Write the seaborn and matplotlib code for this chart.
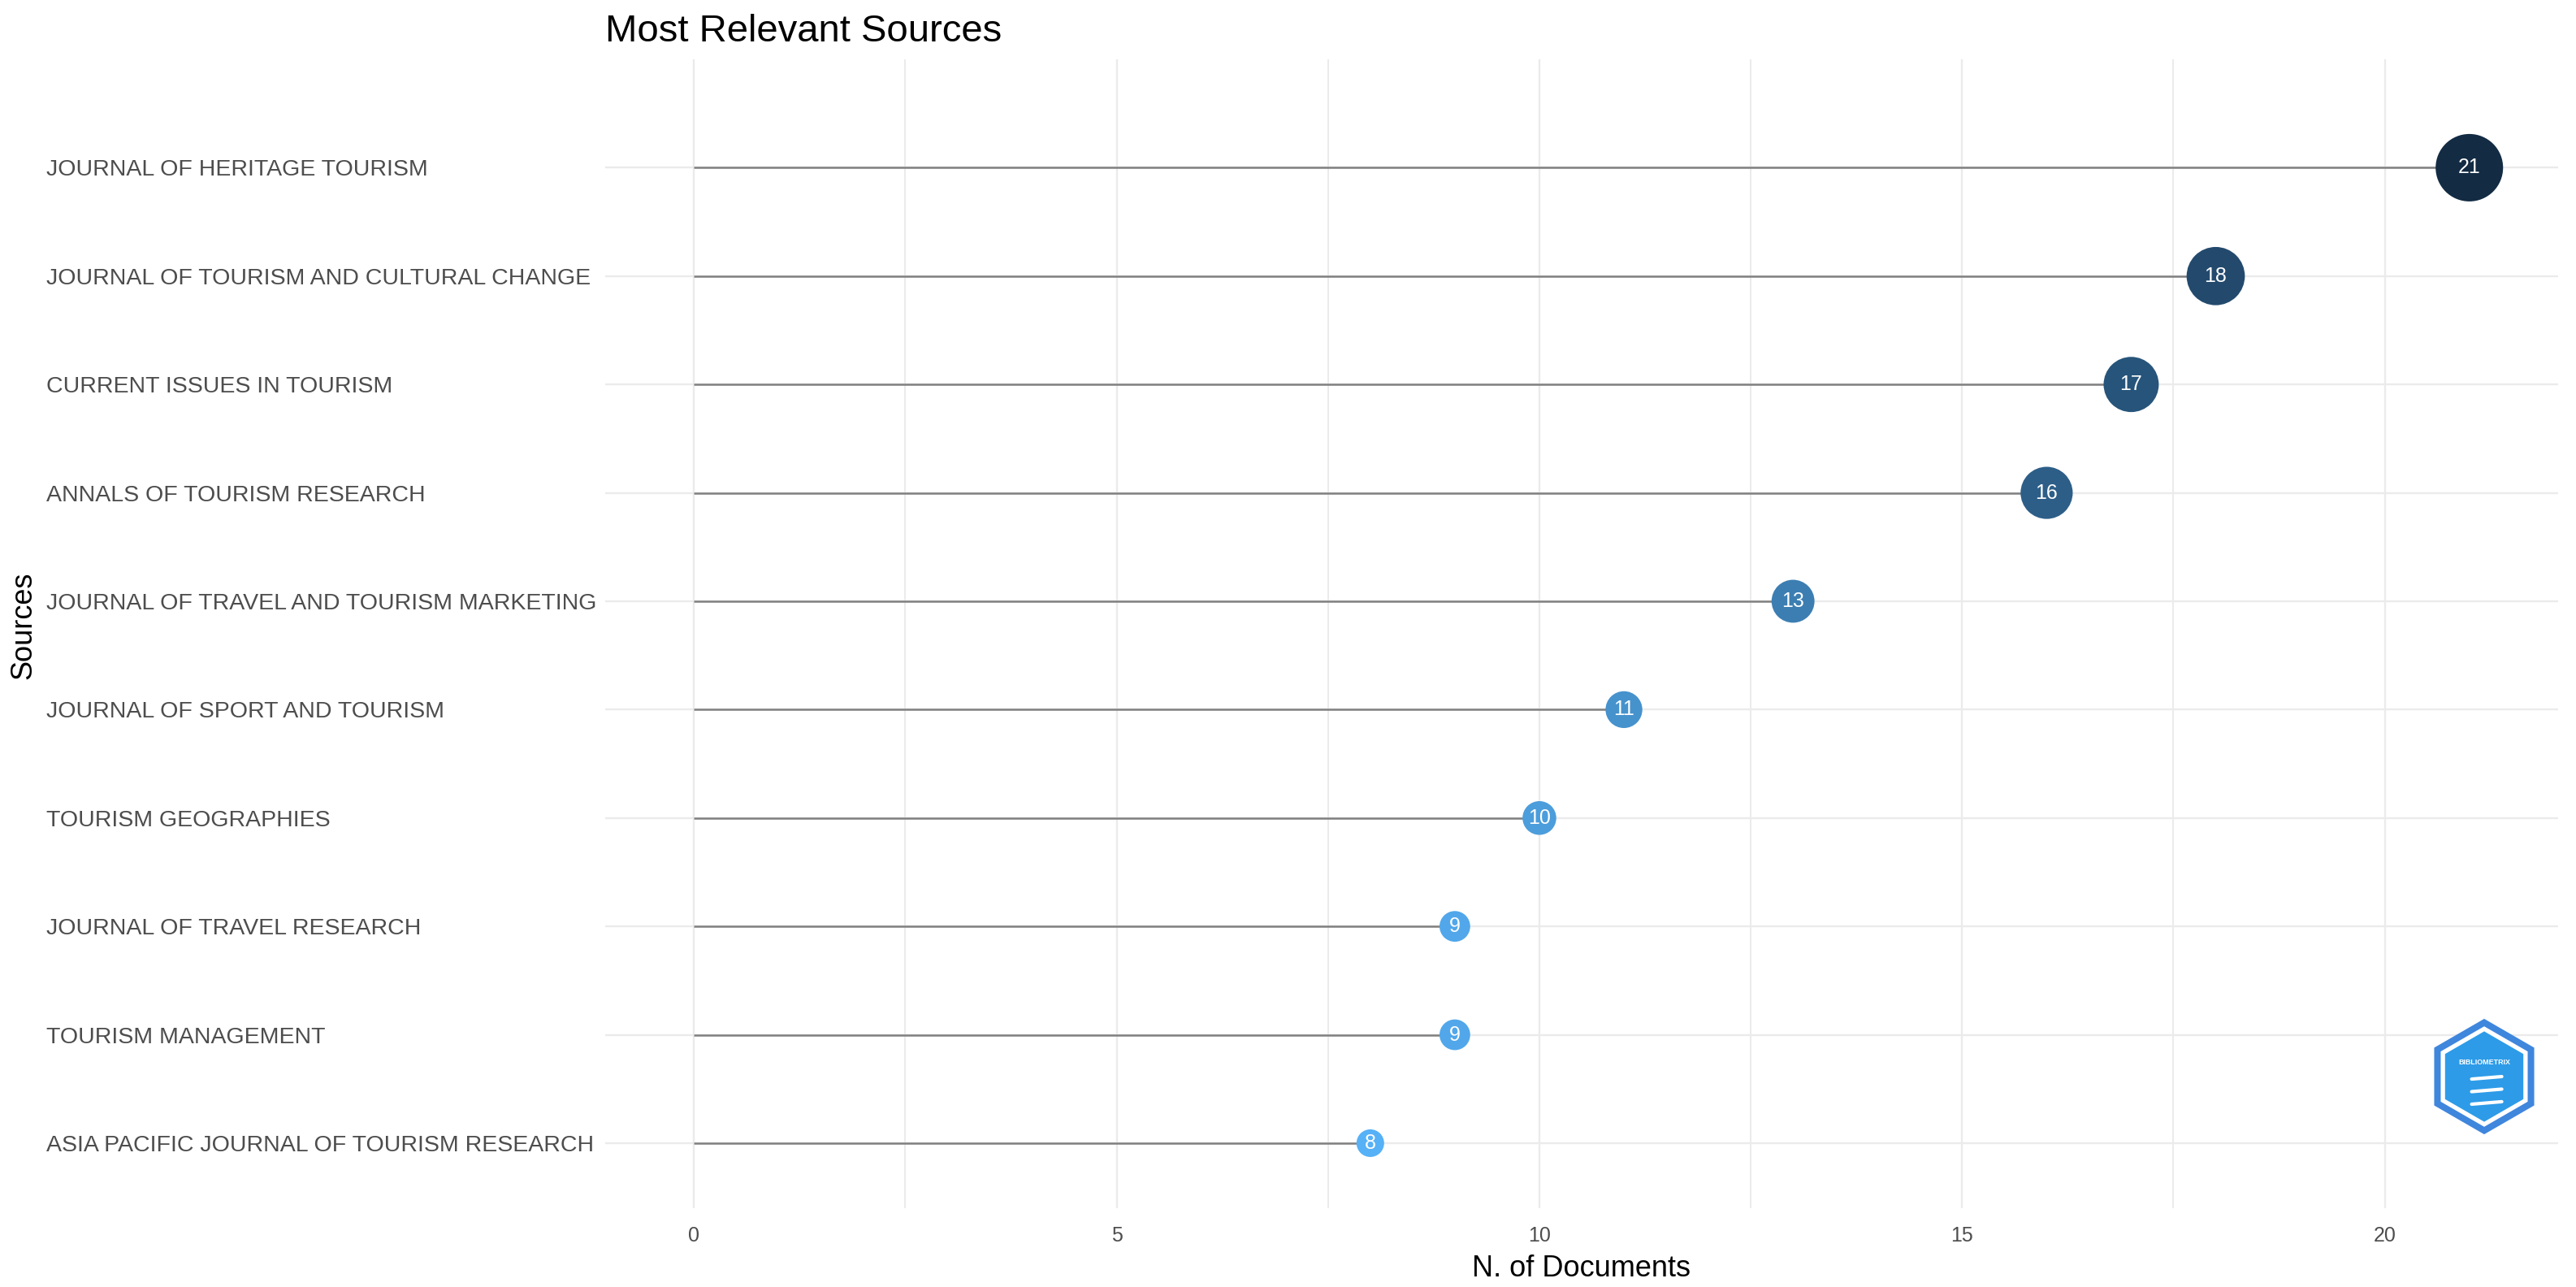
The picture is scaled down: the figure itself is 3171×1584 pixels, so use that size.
import numpy as np
import pandas as pd
import seaborn as sns
import matplotlib
matplotlib.use('Agg')
import matplotlib.pyplot as plt
from matplotlib.colors import LinearSegmentedColormap
from matplotlib.patches import RegularPolygon

# data
sources = [
    "JOURNAL OF HERITAGE TOURISM",
    "JOURNAL OF TOURISM AND CULTURAL CHANGE",
    "CURRENT ISSUES IN TOURISM",
    "ANNALS OF TOURISM RESEARCH",
    "JOURNAL OF TRAVEL AND TOURISM MARKETING",
    "JOURNAL OF SPORT AND TOURISM",
    "TOURISM GEOGRAPHIES",
    "JOURNAL OF TRAVEL RESEARCH",
    "TOURISM MANAGEMENT",
    "ASIA PACIFIC JOURNAL OF TOURISM RESEARCH",
]
docs = [21, 18, 17, 16, 13, 11, 10, 9, 9, 8]

df = pd.DataFrame({"Sources": sources, "Docs": docs})

sns.set_theme(style="white")
plt.rcParams['font.family'] = ['Liberation Sans', 'DejaVu Sans']

W, H = 3171, 1584
fig = plt.figure(figsize=(W / 200, H / 200), dpi=200)
ax = fig.add_axes([745 / W, 1 - 1487 / H, (3149 - 745) / W, (1487 - 73) / H])

# ggplot-like gradient, dark for large values
cmap = LinearSegmentedColormap.from_list("bx", ["#56B1F7", "#132B43"])
lo, hi = min(docs), max(docs)
# marker diameter grows linearly with the count (pixels -> points^2)
diam_px = {v: 34 + (v - lo) / (hi - lo) * 49 for v in set(docs)}
sizes = {v: (d * 72 / 200) ** 2 for v, d in diam_px.items()}

ax.hlines(df["Sources"], 0, df["Docs"], color="#808080", lw=0.9, zorder=2)
sns.scatterplot(data=df, x="Docs", y="Sources", hue="Docs", palette=cmap,
                hue_norm=(lo, hi), size="Docs", sizes=sizes, legend=False,
                linewidth=0, alpha=1, ax=ax, zorder=3)
for s, v in zip(df["Sources"], df["Docs"]):
    ax.text(v, s, str(v), color="white", ha="center", va="center",
            fontsize=9, zorder=4)

ax.set_xlim(-1.05, 22.05)
ax.set_ylim(len(sources) - 1 + 0.6, -1.0)
ax.set_xticks([0, 5, 10, 15, 20])
ax.set_xticks([2.5, 7.5, 12.5, 17.5], minor=True)
ax.grid(which="major", color="#EBEBEB", lw=0.85)
ax.grid(which="minor", axis="x", color="#EBEBEB", lw=0.7)
ax.set_axisbelow(True)
for sp in ax.spines.values():
    sp.set_visible(False)

ax.tick_params(axis="x", length=0, labelsize=9, labelcolor="#4D4D4D", pad=8)
ax.tick_params(axis="y", length=0, labelsize=10.25, labelcolor="#4D4D4D", pad=247.7)
for lab in ax.get_yticklabels():
    lab.set_horizontalalignment("left")

ax.set_xlabel("N. of Documents", fontsize=13, color="black", labelpad=4)
ax.set_ylabel("Sources", fontsize=13, color="black")
ax.yaxis.set_label_coords(46 / W, 1 - 770 / H, transform=fig.transFigure)
ax.set_title("Most Relevant Sources", loc="left", fontsize=17, color="black", pad=8)

# rough stand-in for the bibliometrix hex logo
lax = fig.add_axes([2990 / W, 1 - 1400 / H, 136 / W, 150 / H])
lax.set_xlim(-1.1, 1.1)
lax.set_ylim(-1.2, 1.2)
lax.set_aspect("equal")
lax.axis("off")
lax.add_patch(RegularPolygon((0, 0), 6, radius=1.15, facecolor="#3F86DD", edgecolor="none"))
lax.add_patch(RegularPolygon((0, 0), 6, radius=1.0, facecolor="white", edgecolor="none"))
lax.add_patch(RegularPolygon((0, 0), 6, radius=0.9, facecolor="#2D9BE8", edgecolor="none"))
lax.text(0, 0.28, "BIBLIOMETRIX", color="white", ha="center", va="center",
         fontsize=3.2, fontweight="bold")
for yy in [-0.05, -0.3, -0.55]:
    lax.plot([-0.25, 0.35], [yy, yy + 0.05], color="white", lw=1.5)

fig.savefig("out.png", dpi=200)
